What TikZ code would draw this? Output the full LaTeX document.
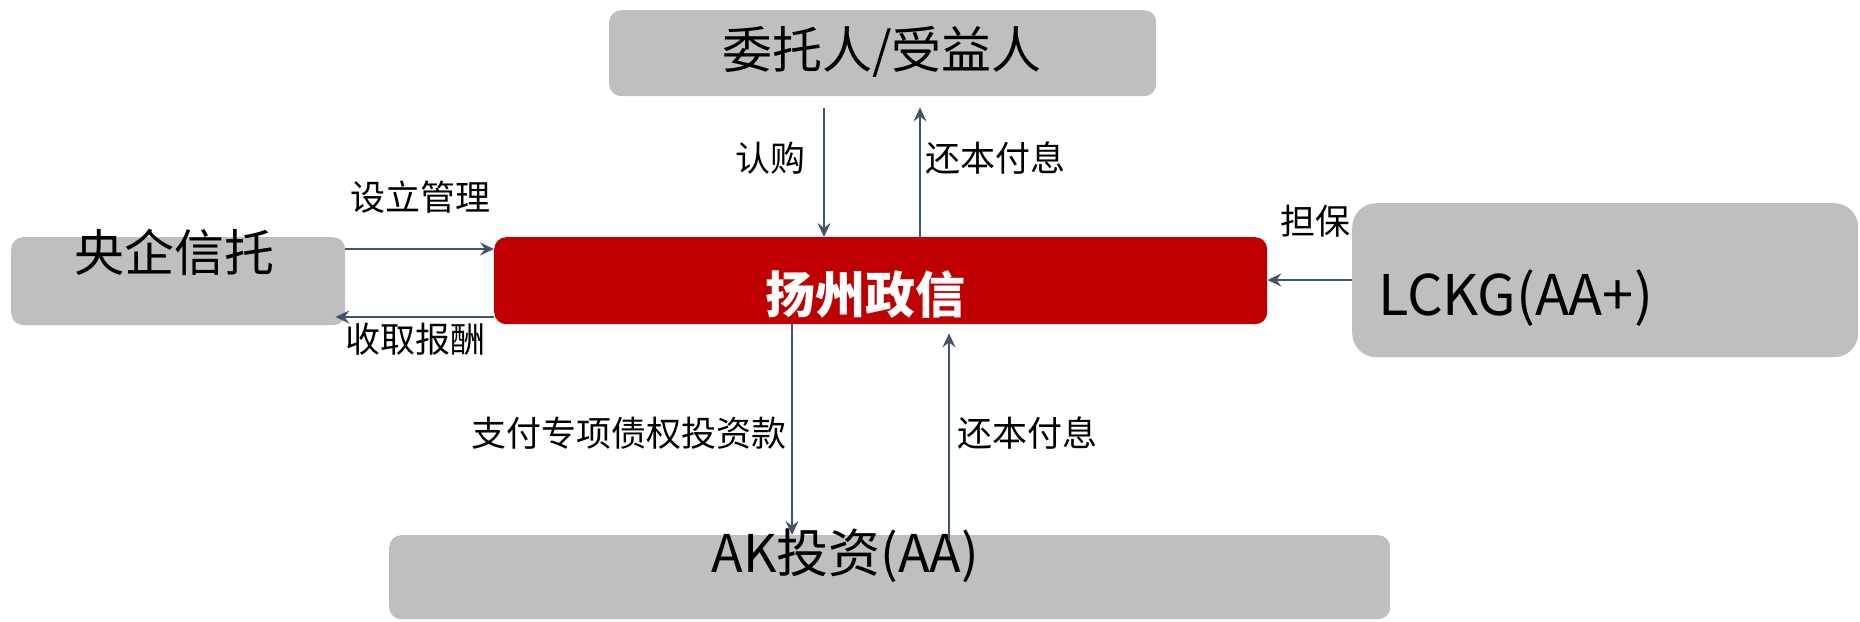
\documentclass[tikz,border=0pt]{standalone}
\usepackage{fontspec}
\setmainfont{Noto Sans CJK SC}
\usetikzlibrary{arrows.meta,calc}
\definecolor{boxgray}{HTML}{BFBFBF}
\definecolor{zxred}{HTML}{C00000}
\definecolor{arrowc}{HTML}{44546A}
\begin{document}
\begin{tikzpicture}[x=1pt,y=-1pt,
  box/.style={draw=none,fill=boxgray,rounded corners=12pt,inner sep=0pt,anchor=north west},
  ttl/.style={font=\fontsize{50}{56}\selectfont,inner sep=0pt,text=black},
  lab/.style={font=\fontsize{35}{40}\selectfont,inner sep=0pt,text=black},
  arr/.style={draw=arrowc,line width=1.8pt,-{Stealth[length=14pt,width=13pt,inset=5pt]}}]
\useasboundingbox (0,0) rectangle (1860,621);
% boxes
\node[box,minimum width=547pt,minimum height=86pt] (top) at (609,10) {};
\node[box,minimum width=334pt,minimum height=88pt] (left) at (11,237) {};
\node[box,fill=zxred,minimum width=773pt,minimum height=87pt] (red) at (494,237) {};
\node[box,rounded corners=24pt,minimum width=506pt,minimum height=154pt] (right) at (1352,203) {};
\node[box,minimum width=1001pt,minimum height=84pt] (bot) at (389,535) {};
% box texts
\node[ttl] (tTop) at (882,52) {委托人/受益人};
\node[ttl] (tLeft) at (174,252) {央企信托};
\node[ttl,text=white,font=\fontsize{50}{56}\selectfont\bfseries] (tRed) at (865,294) {扬州政信};
\node[ttl,font=\fontsize{56}{60}\selectfont,anchor=base west] (tRight) at (1378,315) {LCKG(AA+)};
\node[ttl,font=\fontsize{52}{58}\selectfont] (tBot) at (845,556) {AK投资(AA)};
% helper coordinates
\coordinate (xa) at (824,0);
\coordinate (xb) at (920,0);
\coordinate (xc) at (792,0);
\coordinate (xd) at (949,0);
\coordinate (ya) at (0,249);
\coordinate (yb) at (0,317);
\coordinate (yc) at (0,280);
% connectors
\draw[arr] ($(top.south -| xa)+(0,12)$) -- (red.north -| xa);
\draw[arr] (red.north -| xb) -- ($(top.south -| xb)+(0,11)$);
\draw[arr] (left.east |- ya) -- (red.west |- ya);
\draw[arr] (red.west |- yb) -- ($(left.east |- yb)+(-10,0)$);
\draw[arr] (right.west |- yc) -- (red.east |- yc);
\draw[arr] (red.south -| xc) -- (bot.north -| xc);
\draw[arr] ($(bot.north -| xd)+(0,5)$) -- ($(red.south -| xd)+(0,9)$);
% labels
\node[lab] (l1) at (770,158) {认购};
\node[lab] (l2) at (995,158) {还本付息};
\node[lab] (l3) at (420,197) {设立管理};
\node[lab] (l4) at (415,339) {收取报酬};
\node[lab] (l5) at (1315,221) {担保};
\node[lab] (l6) at (629,433) {支付专项债权投资款};
\node[lab] (l7) at (1027,433) {还本付息};
\end{tikzpicture}
\end{document}
